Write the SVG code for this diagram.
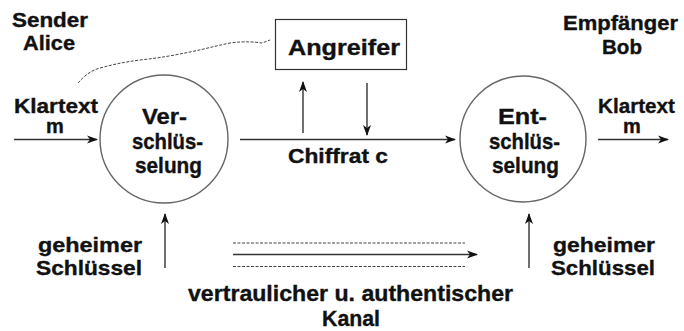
<svg xmlns="http://www.w3.org/2000/svg" width="684" height="331" viewBox="0 0 684 331">
<defs>
<marker id="ah" markerWidth="11" markerHeight="9" refX="10" refY="4.5" orient="auto" markerUnits="userSpaceOnUse">
<path d="M0,0.5 L11,4.5 L0,8.5 L3,4.5 Z" fill="#111"/>
</marker>
</defs>
<style>
text{font-family:"Liberation Sans",Arial,sans-serif;font-weight:bold;fill:#111;stroke:#111;stroke-width:0.35;}
.t20{font-size:20px;}
.t21{font-size:21px;}
.t22{font-size:22px;}
.t23{font-size:23px;}
.ar{stroke:#333;stroke-width:1.4;fill:none;marker-end:url(#ah);}
.dash{stroke:#444;stroke-width:1;fill:none;stroke-dasharray:3 1.5;}
.circ{fill:#fff;stroke:#666;stroke-width:1.4;}
</style>
<rect width="684" height="331" fill="#fff"/>
<g id="connectors">
<path class="dash" d="M78,83 C85,75 92,70 100,68 C115,64 125,62 140,60 C160,58 175,55 190,52 C205,49 215,46 230,43 C245,41 255,42 262,43 L270,40"/>
<line class="ar" x1="14" y1="139.5" x2="97" y2="139.5"/>
<line class="ar" x1="240" y1="139.5" x2="455" y2="139.5"/>
<line class="ar" x1="598" y1="139.5" x2="668" y2="139.5"/>
<line class="ar" x1="303" y1="133" x2="303" y2="82"/>
<line class="ar" x1="367" y1="83" x2="367" y2="135"/>
<line class="ar" x1="165" y1="268" x2="165" y2="214"/>
<line class="ar" x1="529" y1="268" x2="529" y2="214"/>
<line class="dash" x1="233" y1="243" x2="465" y2="243"/>
<line class="ar" x1="233" y1="254.5" x2="477" y2="254.5"/>
<line class="dash" x1="233" y1="266.5" x2="465" y2="266.5"/>
</g>
<g id="sender">
<text class="t20" x="12" y="27" textLength="76" lengthAdjust="spacingAndGlyphs">Sender</text>
<text class="t20" x="23" y="50" textLength="52" lengthAdjust="spacingAndGlyphs">Alice</text>
</g>
<g id="klartext-in">
<text class="t20" x="14" y="113" textLength="84" lengthAdjust="spacingAndGlyphs">Klartext</text>
<text class="t20" x="55" y="133" text-anchor="middle">m</text>
</g>
<g id="verschluesselung">
<circle class="circ" cx="164" cy="139" r="64"/>
<text class="t22" x="142" y="124" textLength="45" lengthAdjust="spacingAndGlyphs">Ver-</text>
<text class="t22" x="132" y="149" textLength="71" lengthAdjust="spacingAndGlyphs">schlüs-</text>
<text class="t22" x="135" y="173" textLength="67" lengthAdjust="spacingAndGlyphs">selung</text>
</g>
<g id="angreifer">
<rect x="275.5" y="19.5" width="131" height="50" fill="#fff" stroke="#333" stroke-width="1.2"/>
<text class="t22" x="288" y="55" textLength="112" lengthAdjust="spacingAndGlyphs">Angreifer</text>
</g>
<g id="chiffrat">
<text class="t20" x="288" y="163" textLength="100" lengthAdjust="spacingAndGlyphs">Chiffrat c</text>
</g>
<g id="entschluesselung">
<circle class="circ" cx="523" cy="139" r="63"/>
<text class="t22" x="498" y="124" textLength="49" lengthAdjust="spacingAndGlyphs">Ent-</text>
<text class="t22" x="489" y="149" textLength="71" lengthAdjust="spacingAndGlyphs">schlüs-</text>
<text class="t22" x="492" y="173" textLength="67" lengthAdjust="spacingAndGlyphs">selung</text>
</g>
<g id="empfaenger">
<text class="t20" x="563" y="30" textLength="115" lengthAdjust="spacingAndGlyphs">Empfänger</text>
<text class="t20" x="602" y="54" textLength="40" lengthAdjust="spacingAndGlyphs">Bob</text>
</g>
<g id="klartext-out">
<text class="t20" x="598" y="113" textLength="77" lengthAdjust="spacingAndGlyphs">Klartext</text>
<text class="t20" x="632" y="133" text-anchor="middle">m</text>
</g>
<g id="schluessel-links">
<text class="t21" x="38" y="252" textLength="104" lengthAdjust="spacingAndGlyphs">geheimer</text>
<text class="t21" x="36" y="275" textLength="106" lengthAdjust="spacingAndGlyphs">Schlüssel</text>
</g>
<g id="schluessel-rechts">
<text class="t21" x="553" y="252" textLength="102" lengthAdjust="spacingAndGlyphs">geheimer</text>
<text class="t21" x="551" y="275" textLength="104" lengthAdjust="spacingAndGlyphs">Schlüssel</text>
</g>
<g id="kanal">
<text class="t22" x="188" y="301" textLength="325" lengthAdjust="spacingAndGlyphs">vertraulicher u. authentischer</text>
<text class="t22" x="322" y="326" textLength="58" lengthAdjust="spacingAndGlyphs">Kanal</text>
</g>
</svg>
